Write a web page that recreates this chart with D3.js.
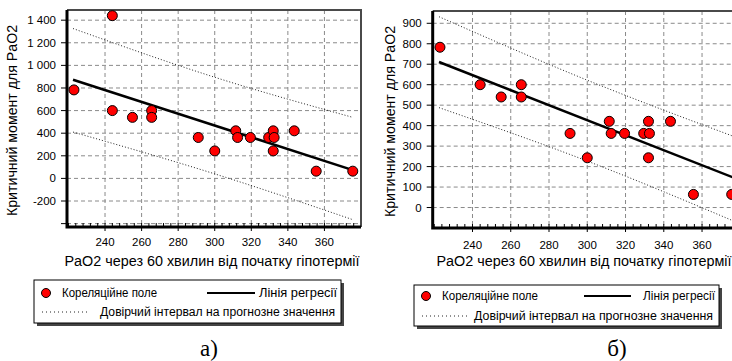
<!DOCTYPE html>
<html>
<head>
<meta charset="utf-8">
<script src="https://cdn.jsdelivr.net/npm/d3@7"></script>
<style>
  body { margin: 0; background: #fff; }
  svg { display: block; }
</style>
</head>
<body>
<script>
// Scatter points: PaO2 after 60 min of hypothermia vs critical moment
const paO2 = [223, 244, 244, 255, 265.5, 265.5, 291, 300, 311.5, 312.5, 319.5, 329.5, 332, 332.5, 332, 343.5, 355.5, 375.5];
const critMoment = [783, 1440, 600, 540, 600, 540, 362, 243, 421, 362, 362, 362, 421, 362, 243, 421, 64, 64];
const outlierIndex = 1; // dropped in panel б)

// Regression lines
const regX = [222.5, 376];
const regYA = [873, 71];
const regYB = [711, 148];

// Prediction interval lines
const ciX = [222.5, 300, 375.5];
const ciUpperA = [1326, 895, 540];
const ciLowerA = [410, 40, -365];
const ciUpperB = [932, 622, 351];
const ciLowerB = [488, 227, -62];

// Ticks
const xTicks = [240, 260, 280, 300, 320, 340, 360];
const yTicksA = [-400, -200, 0, 200, 400, 600, 800, 1000, 1200, 1400];
const yLabelsA = ["", "-200", "0", "200", "400", "600", "800", "1 000", "1 200", "1 400"];
const yTicksB = [0, 100, 200, 300, 400, 500, 600, 700, 800, 900];
const yLabelsB = ["0", "100", "200", "300", "400", "500", "600", "700", "800", "900"];

// Texts
const yTitle = "Критичний момент для PaO2";
const xTitle = "PaO2 через 60 хвилин від початку гіпотермії";
const legendPoints = "Кореляційне поле";
const legendReg = "Лінія регресії";
const legendCI = "Довірчий інтервал на прогнозне значення";
const captions = ["а)", "б)"];

const FONT = "Liberation Sans, Arial";

const svg = d3.select("body").append("svg")
  .attr("width", 732)
  .attr("height", 361);

function drawPanel(p) {
  const x = d3.scaleLinear().domain([219.2, 380]).range(p.xRange);
  const y = d3.scaleLinear().domain(p.yDomain).range(p.yRange);
  const g = svg.append("g");
  const [x0, x1] = p.xRange;
  const [yb, yt] = p.yRange;

  // dashed grid
  g.selectAll(".hgrid").data(p.yTicks).enter().append("line")
    .attr("x1", x0).attr("x2", x1)
    .attr("y1", d => y(d)).attr("y2", d => y(d))
    .attr("stroke", "#8a8a8a").attr("stroke-dasharray", "4,3");
  g.selectAll(".vgrid").data(xTicks).enter().append("line")
    .attr("y1", yt).attr("y2", yb)
    .attr("x1", d => x(d)).attr("x2", d => x(d))
    .attr("stroke", "#8a8a8a").attr("stroke-dasharray", "4,3");

  // top and right frame
  g.append("path")
    .attr("d", `M${x0},${yt}H${x1}V${yb}`)
    .attr("fill", "none").attr("stroke", "#4a4a4a").attr("stroke-width", 2);

  // prediction interval lines
  const line = d3.line().x(d => x(d[0])).y(d => y(d[1])).curve(d3.curveMonotoneX);
  [p.ciUpper, p.ciLower].forEach(vals => {
    g.append("path")
      .attr("d", line(ciX.map((v, i) => [v, vals[i]])))
      .attr("fill", "none").attr("stroke", "#222")
      .attr("stroke-width", 1).attr("stroke-dasharray", "1,2");
  });

  // regression line
  g.append("path")
    .attr("d", line(regX.map((v, i) => [v, p.regY[i]])))
    .attr("fill", "none").attr("stroke", "#000").attr("stroke-width", 2.5);

  // points
  const pts = paO2.map((v, i) => [v, critMoment[i], i])
    .filter(d => p.keepOutlier || d[2] !== outlierIndex);
  g.selectAll(".pt").data(pts).enter().append("circle")
    .attr("cx", d => x(d[0])).attr("cy", d => y(d[1]))
    .attr("r", 5).attr("fill", "#ff0000").attr("stroke", "#000").attr("stroke-width", 1);

  // axes: thick left and bottom lines
  g.append("path")
    .attr("d", `M${x0},${yt}V${yb}H${x1}`)
    .attr("fill", "none").attr("stroke", "#000").attr("stroke-width", 3);

  // minor ticks on x axis
  g.selectAll(".minor").data(d3.range(220, 380, 4)).enter().append("line")
    .attr("x1", d => x(d)).attr("x2", d => x(d))
    .attr("y1", yb).attr("y2", yb - 4)
    .attr("stroke", "#000");
  g.selectAll(".xtick").data(xTicks).enter().append("line")
    .attr("x1", d => x(d)).attr("x2", d => x(d))
    .attr("y1", yb).attr("y2", yb + 4)
    .attr("stroke", "#000");
  g.selectAll(".xlab").data(xTicks).enter().append("text")
    .attr("x", d => x(d)).attr("y", p.xLabelY)
    .attr("text-anchor", "middle")
    .style("font-family", FONT).style("font-size", "11.5px")
    .text(d => d);

  g.selectAll(".ytick").data(p.yTicks).enter().append("line")
    .attr("x1", x0 - 6).attr("x2", x0)
    .attr("y1", d => y(d)).attr("y2", d => y(d))
    .attr("stroke", "#000");
  g.selectAll(".ylab").data(p.yTicks).enter().append("text")
    .attr("x", x0 - 11).attr("y", d => y(d) + 4)
    .attr("text-anchor", "end")
    .style("font-family", FONT).style("font-size", "11.5px")
    .text((d, i) => p.yLabels[i]);

  // axis titles
  g.append("text")
    .attr("transform", `translate(${p.yTitleX},${(yt + yb) / 2 + 2}) rotate(-90)`)
    .attr("text-anchor", "middle")
    .attr("textLength", 191).attr("lengthAdjust", "spacingAndGlyphs")
    .style("font-family", FONT).style("font-size", "14px")
    .text(yTitle);
  g.append("text")
    .attr("x", p.xTitleX).attr("y", 266)
    .attr("text-anchor", "middle")
    .attr("textLength", 295).attr("lengthAdjust", "spacingAndGlyphs")
    .style("font-family", FONT).style("font-size", "14px")
    .text(xTitle);

  // legend box with shadow
  const L = p.legend;
  g.append("rect")
    .attr("x", L.x + 3).attr("y", L.y + 3).attr("width", L.w).attr("height", L.h)
    .attr("fill", "#444");
  g.append("rect")
    .attr("x", L.x).attr("y", L.y).attr("width", L.w).attr("height", L.h)
    .attr("fill", "#fff").attr("stroke", "#000");
  g.append("circle")
    .attr("cx", L.x + 12).attr("cy", L.row1).attr("r", 4.5)
    .attr("fill", "#ff0000").attr("stroke", "#000");
  g.append("text")
    .attr("x", L.x + 28).attr("y", L.row1 + 4)
    .attr("textLength", L.len[0]).attr("lengthAdjust", "spacingAndGlyphs")
    .style("font-family", FONT).style("font-size", "12px")
    .text(legendPoints);
  g.append("line")
    .attr("x1", L.lineX[0]).attr("x2", L.lineX[1])
    .attr("y1", L.row1).attr("y2", L.row1)
    .attr("stroke", "#000").attr("stroke-width", 2);
  g.append("text")
    .attr("x", L.x + L.w - 4).attr("y", L.row1 + 4)
    .attr("text-anchor", "end")
    .attr("textLength", L.len[1]).attr("lengthAdjust", "spacingAndGlyphs")
    .style("font-family", FONT).style("font-size", "12px")
    .text(legendReg);
  g.append("line")
    .attr("x1", L.x + 8).attr("x2", L.x + 54)
    .attr("y1", L.row2).attr("y2", L.row2)
    .attr("stroke", "#222").attr("stroke-dasharray", "1,3");
  g.append("text")
    .attr("x", L.x + L.w - 6).attr("y", L.row2 + 4)
    .attr("text-anchor", "end")
    .attr("textLength", L.len[2]).attr("lengthAdjust", "spacingAndGlyphs")
    .style("font-family", FONT).style("font-size", "12px")
    .text(legendCI);

  // caption
  g.append("text")
    .attr("x", p.captionX).attr("y", 356)
    .attr("text-anchor", "middle")
    .style("font-family", "Liberation Serif, Times New Roman").style("font-size", "23px")
    .text(p.caption);
}

drawPanel({
  xRange: [67, 361], yRange: [227, 10], yDomain: [-430, 1490],
  yTicks: yTicksA, yLabels: yLabelsA,
  regY: regYA, ciUpper: ciUpperA, ciLower: ciLowerA, keepOutlier: true,
  xLabelY: 246, yTitleX: 17, xTitleX: 212,
  legend: { x: 34, y: 280, w: 307, h: 43, row1: 293, row2: 312, lineX: [207, 255], len: [95, 78, 235] },
  captionX: 209, caption: captions[0]
});

drawPanel({
  xRange: [432.7, 740.3], yRange: [228, 11], yDomain: [-100, 960],
  yTicks: yTicksB, yLabels: yLabelsB,
  regY: regYB, ciUpper: ciUpperB, ciLower: ciLowerB, keepOutlier: false,
  xLabelY: 249, yTitleX: 395, xTitleX: 584,
  legend: { x: 414, y: 285, w: 305, h: 41, row1: 296, row2: 316, lineX: [584, 631], len: [96, 72, 239] },
  captionX: 617, caption: captions[1]
});
</script>
</body>
</html>
